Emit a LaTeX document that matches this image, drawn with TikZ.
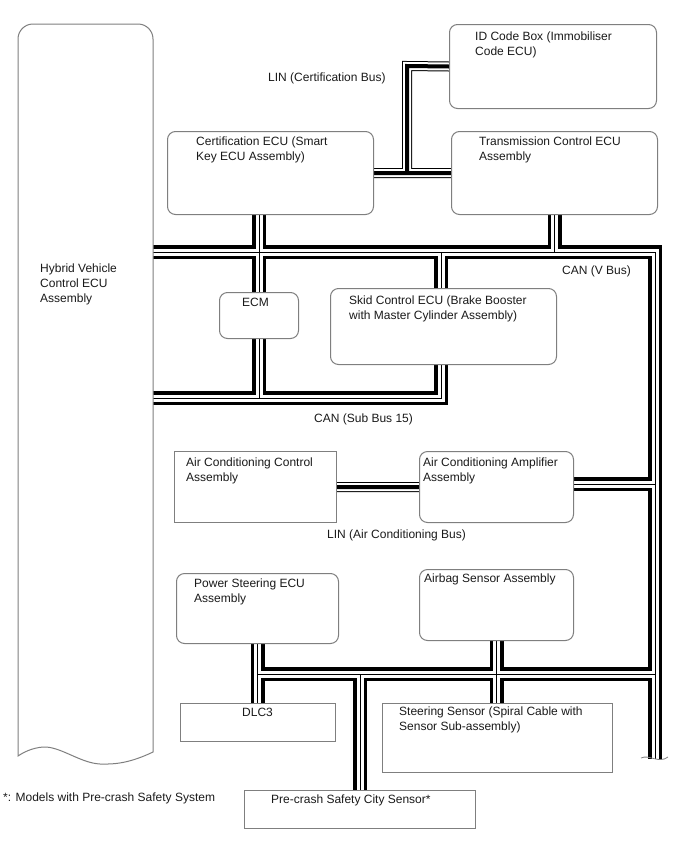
\documentclass[tikz,border=0pt]{standalone}
\usepackage{fontspec}
\setmainfont{Liberation Sans}
\usepackage{xcolor}
\usepackage{tikz}
\usetikzlibrary{calc,backgrounds,positioning}
\definecolor{rim}{HTML}{7F7F7F}
\definecolor{ink}{HTML}{1A1A1A}

\begin{document}
\begin{tikzpicture}[x=1pt, y=-1pt,
  ecu/.style={draw=rim, line width=1pt, fill=white, rounded corners=8pt,
    anchor=north west, inner sep=0pt},
  part/.style={ecu, sharp corners},
  tag/.style={font=\fontsize{12}{15}\selectfont, text=ink, align=left,
    anchor=north west, inner sep=0pt},
  can/.style={line width=3.5pt, double=white, double distance=7pt},
  canwire/.style={line width=1pt},
  lin/.style={line width=1pt, double=white, double distance=8pt},
  linwire/.style={line width=4pt}]

  \useasboundingbox (0,0) rectangle (688,852);

  % units are screen pixels, y grows downwards
  \node[inner sep=0pt, minimum width=135pt, minimum height=732pt,
    anchor=north west] (hv) at (18,24) {};
  \draw[rim, line width=1pt, fill=white] (18,756) -- (18,39)
    arc[start angle=180, end angle=270, radius=15] -- (138,24)
    arc[start angle=270, end angle=360, radius=15] -- (153,752)
    .. controls (130,763) and (115,764.5) .. (100,764)
    .. controls (80,763) and (60,746) .. (43,747)
    .. controls (32,748) and (24,752) .. (18,756) -- cycle;

  \node[ecu, minimum width=207pt, minimum height=84pt] (idbox) at (449,24) {};
  \node[ecu, minimum width=206pt, minimum height=83pt] (cert) at (167,131) {};
  \node[ecu, minimum width=206pt, minimum height=83pt] (trans) at (451,131) {};
  \node[ecu, minimum width=79pt, minimum height=46pt] (ecm) at (219,292) {};
  \node[ecu, minimum width=226pt, minimum height=76pt] (skid) at (330,288) {};
  \node[part, minimum width=162pt, minimum height=71pt] (acctrl) at (174,451) {};
  \node[ecu, minimum width=154pt, minimum height=71pt] (acamp) at (419,451) {};
  \node[ecu, minimum width=162pt, minimum height=70pt] (ps) at (176,573) {};
  \node[ecu, minimum width=154pt, minimum height=71pt] (airbag) at (419,569) {};
  \node[part, minimum width=155pt, minimum height=38pt] (dlc) at (180,703) {};
  \node[part, minimum width=230pt, minimum height=69pt] (steer) at (382,703) {};
  \node[part, minimum width=231pt, minimum height=38pt] (pcs) at (244,790) {};

  \foreach \nm/\dx/\dy/\txt in {
    hv/22/240/{Hybrid Vehicle\\Control ECU\\Assembly},
    idbox/26/8/{ID Code Box (Immobiliser\\Code ECU)},
    cert/29/6/{Certification ECU (Smart\\Key ECU Assembly)},
    trans/28/6/{Transmission Control ECU\\Assembly},
    ecm/23/6/{ECM},
    skid/19/8/{Skid Control ECU (Brake Booster\\with Master Cylinder Assembly)},
    acctrl/12/7/{Air Conditioning Control\\Assembly},
    acamp/4/7/{Air Conditioning Amplifier\\Assembly},
    ps/18/6/{Power Steering ECU\\Assembly},
    airbag/5/5/{Airbag Sensor Assembly},
    dlc/62/5/{DLC3},
    steer/17/4/{Steering Sensor (Spiral Cable with\\Sensor Sub-assembly)},
    pcs/27/5/{Pre-crash Safety City Sensor*}
  }{
    \node[tag] (\nm-txt) at ([shift={(\dx,\dy)}]\nm.north west) {\txt};
  }

  \node[tag] (lincert) at (268,73) {LIN (Certification Bus)};
  \node[tag] (canv) at (562,266) {CAN (V Bus)};
  \node[tag] (cansub) at (314,414) {CAN (Sub Bus 15)};
  \node[tag] (linac) at (327,530) {LIN (Air Conditioning Bus)};
  \node[tag] (note) at (3,793) {*: Models with Pre-crash Safety System};

  % bus junctions
  \coordinate (vne) at (655,252);
  \coordinate (vse) at (655,759);
  \coordinate (sbe) at (441,398);
  \coordinate (acj) at (655,484);
  \coordinate (lwj) at (655,674);
  \coordinate (lik) at (407,66);

  \def\vbusroute{(trans.south) -- (trans.south |- vne)
    (hv.east |- vne) -- (vne) -- (vse)
    (ecm.north |- cert.south) -- (ecm.north |- sbe)
    (sbe |- vne) -- (sbe) -- (hv.east |- sbe)
    (acamp.east |- acj) -- (acj)
    (ps.south) -- (ps.south |- dlc.north)
    (ps.south |- lwj) -- (lwj)
    (pcs.north |- lwj) -- (pcs.north)
    (airbag.south) -- (airbag.south |- steer.north)}
  \def\linroute{(cert.east) -- (trans.west)
    (lik |- cert.east) -- (lik) -- (idbox.west)
    (acctrl.east) -- (acamp.west)}

  \begin{pgfonlayer}{background}
    \draw[can] \vbusroute;
    \draw[canwire] \vbusroute;
    \draw[lin] \linroute;
    \draw[linwire] \linroute;
  \end{pgfonlayer}

  \draw[rim, line width=0.8pt] (641,758) .. controls (649,754) and (659,764) .. (668,757);
\end{tikzpicture}
\end{document}
